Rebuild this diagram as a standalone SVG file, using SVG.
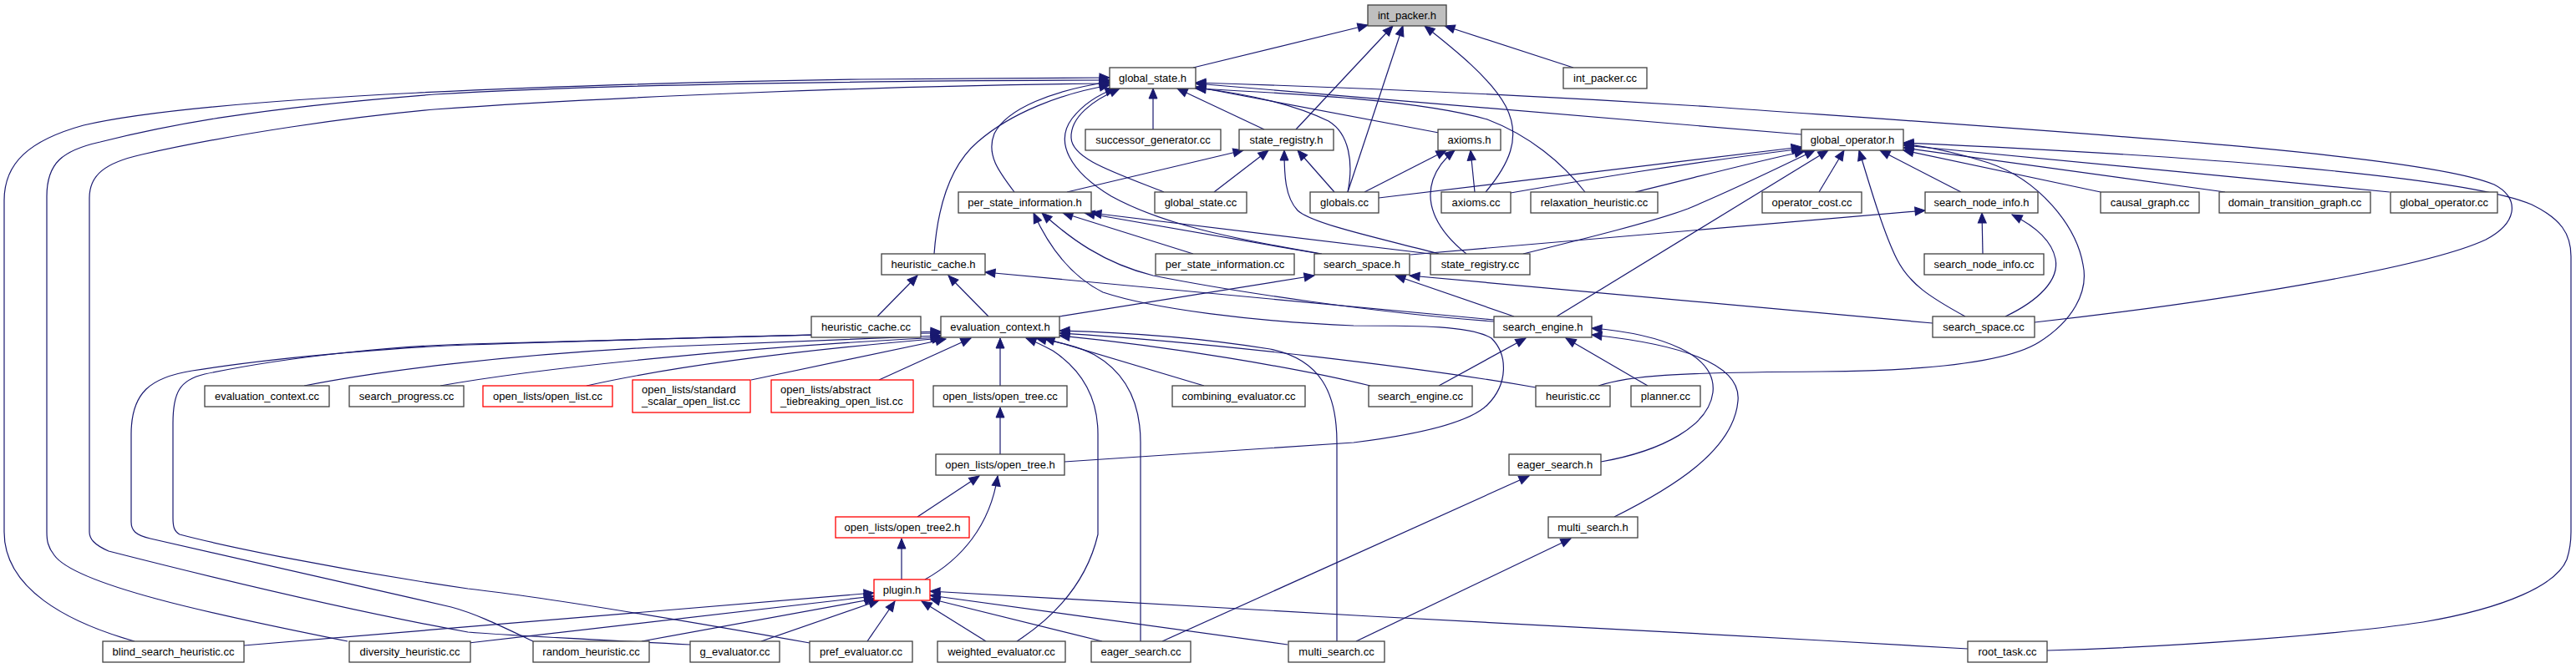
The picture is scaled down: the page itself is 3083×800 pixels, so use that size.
<svg xmlns="http://www.w3.org/2000/svg" width="3083" height="800" viewBox="0 0 3083 800">
<style>
.n rect{fill:#fff;stroke:#404040;stroke-width:1.3}
.n.red rect{stroke:#ff0000}
.n.root rect{fill:#bfbfbf}
.n text{font-family:"Liberation Sans",Arial,sans-serif;font-size:13px;fill:#000;text-anchor:middle}
.n text.l{text-anchor:start}
#edges path{fill:none;stroke:#191970;stroke-width:1.2;marker-end:url(#a)}
</style>
<defs>
<marker id="a" markerUnits="userSpaceOnUse" markerWidth="14" markerHeight="12" refX="12" refY="5" orient="auto" overflow="visible"><path d="M0,0 L12,5 L0,10 z" fill="#191970" stroke="#191970" stroke-width="1"/></marker>
</defs>
<rect width="3083" height="800" fill="#fff"/>
<g id="edges">
<path d="M1428,81 L1637,30"/>
<path d="M1551,155 L1667,31"/>
<path d="M1613,230 L1679,31"/>
<path d="M1778,230 C1805,198 1822,165 1802,127 C1785,95 1742,60 1705,31"/>
<path d="M1883,81 L1729,31"/>
<path d="M1380,155 L1380,106"/>
<path d="M1513,155 L1409,106"/>
<path d="M1393,230 C1330,205 1283,190 1282,165 C1281,140 1308,120 1340,106"/>
<path d="M1582,304 C1470,285 1390,268 1330,235 C1280,205 1262,170 1283,142 C1297,124 1315,113 1335,106"/>
<path d="M1214,230 C1195,205 1180,185 1190,160 C1205,130 1260,108 1328,98"/>
<path d="M1118,304 C1122,250 1135,200 1170,170 C1210,135 1270,112 1328,102"/>
<path d="M161,768 C80,745 5,705 5,637 L5,240 C5,195 35,168 100,150 C250,115 700,100 1030,95 L1328,93"/>
<path d="M416,768 C250,735 90,700 65,665 C57,655 56,647 56,637 L56,235 C56,195 75,180 120,170 C200,150 300,130 520,113 C700,102 1000,97 1328,96"/>
<path d="M826,772 C700,765 620,762 560,757 C400,728 220,683 130,660 C112,652 107,645 107,637 L107,237 C107,210 125,195 170,185 C280,160 420,140 520,131 C700,118 1030,103 1328,100"/>
<path d="M1722,159 L1431,104"/>
<path d="M1613,230 C1620,195 1615,160 1590,145 C1550,125 1490,112 1431,105"/>
<path d="M1897,230 C1870,195 1830,162 1780,143 C1700,120 1550,112 1431,106"/>
<path d="M2156,161 L1431,100"/>
<path d="M2435,386 C2650,362 2900,322 2975,287 C3015,266 3015,236 2985,221 C2900,185 2500,160 2050,128 C1800,112 1600,104 1431,99"/>
<path d="M1277,230 L1488,180"/>
<path d="M1453,230 L1518,180"/>
<path d="M1597,230 L1553,180"/>
<path d="M1722,304 C1650,285 1570,268 1553,252 C1538,236 1537,210 1537,180"/>
<path d="M1633,230 L1731,180"/>
<path d="M1765,230 L1760,180"/>
<path d="M1755,304 C1720,276 1705,245 1715,215 C1721,198 1731,188 1741,180"/>
<path d="M1650,237 L2156,176"/>
<path d="M1808,231 C1900,215 2000,198 2157,178"/>
<path d="M1957,230 C2020,215 2090,196 2160,181"/>
<path d="M1823,304 C1900,285 1980,265 2020,250 C2080,225 2130,200 2172,180"/>
<path d="M1863,379 L2188,180"/>
<path d="M2177,230 L2207,180"/>
<path d="M2347,230 L2250,180"/>
<path d="M2352,379 C2310,356 2285,340 2270,310 C2255,280 2240,230 2225,180"/>
<path d="M2514,230 L2278,180"/>
<path d="M2663,230 L2278,177"/>
<path d="M2860,230 L2278,174"/>
<path d="M2450,779 C2600,775 2800,760 2900,745 C3000,728 3060,700 3072,670 C3077,655 3077,645 3077,637 L3077,307 C3077,280 3065,262 3030,245 C2950,210 2600,185 2278,171"/>
<path d="M1913,462 C1950,450 2000,446 2180,445 C2300,444 2400,435 2440,410 C2480,385 2500,350 2493,317 C2485,270 2440,215 2380,195 C2340,182 2310,176 2278,172"/>
<path d="M1428,304 L1272,255"/>
<path d="M1712,304 L1306,255"/>
<path d="M1580,304 L1298,255"/>
<path d="M1788,385 C1650,375 1480,350 1380,330 C1320,315 1280,285 1247,255"/>
<path d="M1274,553 L1620,530 C1700,520 1760,505 1780,485 C1805,460 1805,425 1785,405 C1760,390 1700,390 1620,390 C1500,385 1380,370 1320,350 C1280,330 1255,295 1237,255"/>
<path d="M1050,379 L1098,330"/>
<path d="M1183,379 L1135,330"/>
<path d="M1788,383 C1600,365 1400,348 1179,326"/>
<path d="M1268,379 L1573,330"/>
<path d="M1812,379 L1670,330"/>
<path d="M2313,387 L1687,330"/>
<path d="M1688,305 L2304,252"/>
<path d="M2373,304 L2372,255"/>
<path d="M2400,379 C2440,360 2465,335 2460,310 C2455,285 2430,268 2408,257"/>
<path d="M1722,462 L1826,405"/>
<path d="M1972,462 L1874,405"/>
<path d="M1916,553 C1990,540 2045,510 2050,470 C2055,425 1990,400 1905,393"/>
<path d="M1932,619 C2000,585 2075,540 2080,480 C2085,430 1990,410 1905,401"/>
<path d="M364,462 C450,445 600,425 800,415 C950,408 1050,404 1126,402"/>
<path d="M527,462 C650,440 900,415 1126,404"/>
<path d="M702,462 C800,440 950,420 1128,405"/>
<path d="M899,455 L1132,406"/>
<path d="M1052,455 L1162,405"/>
<path d="M638,768 C600,750 570,735 540,727 C400,695 250,660 180,645 C162,641 157,635 157,625 L157,520 C157,470 180,452 230,444 C350,425 500,415 560,413 C800,405 1000,400 1126,399"/>
<path d="M969,770 C800,740 650,715 560,705 C400,682 260,652 215,640 C208,636 207,630 207,620 L207,507 C207,470 215,455 245,448 C350,426 480,414 560,412 C800,405 1000,399 1126,397"/>
<path d="M1197,462 L1197,405"/>
<path d="M1441,462 L1250,405"/>
<path d="M1640,462 C1550,440 1400,415 1268,402"/>
<path d="M1838,464 C1700,440 1450,410 1268,399"/>
<path d="M1600,768 L1600,530 C1600,470 1580,430 1520,418 C1440,405 1350,398 1268,396"/>
<path d="M1365,768 L1365,530 C1365,480 1345,445 1310,425 C1285,412 1255,408 1240,405"/>
<path d="M1217,768 C1260,740 1300,700 1314,640 L1314,520 C1314,470 1290,440 1260,420 C1245,412 1236,408 1228,405"/>
<path d="M292,773 L1046,710"/>
<path d="M561,770 L1046,714"/>
<path d="M768,768 L1047,717"/>
<path d="M911,768 L1052,719"/>
<path d="M1038,768 L1071,720"/>
<path d="M1180,768 L1103,720"/>
<path d="M1319,768 L1113,717"/>
<path d="M1541,772 L1113,713"/>
<path d="M2355,777 L2180,767 C2000,757 1800,746 1640,738 L1113,708"/>
<path d="M1079,694 L1079,645"/>
<path d="M1098,619 L1172,570"/>
<path d="M1107,694 C1150,670 1185,630 1194,570"/>
<path d="M1197,544 L1197,488"/>
<path d="M1391,768 L1830,570"/>
<path d="M1623,768 L1880,645"/>
</g>
<g id="int_packer_h" class="n root"><rect x="1637" y="6" width="94" height="25"/><text x="1684" y="23">int_packer.h</text></g>
<g id="global_state_h" class="n"><rect x="1328" y="81" width="103" height="25"/><text x="1379.5" y="98">global_state.h</text></g>
<g id="int_packer_cc" class="n"><rect x="1871" y="81" width="100" height="25"/><text x="1921" y="98">int_packer.cc</text></g>
<g id="successor_generator_cc" class="n"><rect x="1299" y="155" width="162" height="25"/><text x="1380" y="172">successor_generator.cc</text></g>
<g id="state_registry_h" class="n"><rect x="1483" y="155" width="113" height="25"/><text x="1539.5" y="172">state_registry.h</text></g>
<g id="axioms_h" class="n"><rect x="1721" y="155" width="75" height="25"/><text x="1758.5" y="172">axioms.h</text></g>
<g id="global_operator_h" class="n"><rect x="2156" y="155" width="122" height="25"/><text x="2217" y="172">global_operator.h</text></g>
<g id="per_state_information_h" class="n"><rect x="1147" y="230" width="159" height="25"/><text x="1226.5" y="247">per_state_information.h</text></g>
<g id="global_state_cc" class="n"><rect x="1382" y="230" width="110" height="25"/><text x="1437" y="247">global_state.cc</text></g>
<g id="globals_cc" class="n"><rect x="1568" y="230" width="82" height="25"/><text x="1609" y="247">globals.cc</text></g>
<g id="axioms_cc" class="n"><rect x="1725" y="230" width="83" height="25"/><text x="1766.5" y="247">axioms.cc</text></g>
<g id="relaxation_heuristic_cc" class="n"><rect x="1832" y="230" width="152" height="25"/><text x="1908" y="247">relaxation_heuristic.cc</text></g>
<g id="operator_cost_cc" class="n"><rect x="2109" y="230" width="119" height="25"/><text x="2168.5" y="247">operator_cost.cc</text></g>
<g id="search_node_info_h" class="n"><rect x="2304" y="230" width="135" height="25"/><text x="2371.5" y="247">search_node_info.h</text></g>
<g id="causal_graph_cc" class="n"><rect x="2514" y="230" width="118" height="25"/><text x="2573" y="247">causal_graph.cc</text></g>
<g id="domain_transition_graph_cc" class="n"><rect x="2656" y="230" width="181" height="25"/><text x="2746.5" y="247">domain_transition_graph.cc</text></g>
<g id="global_operator_cc" class="n"><rect x="2861" y="230" width="128" height="25"/><text x="2925" y="247">global_operator.cc</text></g>
<g id="heuristic_cache_h" class="n"><rect x="1055" y="304" width="124" height="25"/><text x="1117" y="321">heuristic_cache.h</text></g>
<g id="per_state_information_cc" class="n"><rect x="1383" y="304" width="166" height="25"/><text x="1466" y="321">per_state_information.cc</text></g>
<g id="search_space_h" class="n"><rect x="1573" y="304" width="114" height="25"/><text x="1630" y="321">search_space.h</text></g>
<g id="state_registry_cc" class="n"><rect x="1712" y="304" width="119" height="25"/><text x="1771.5" y="321">state_registry.cc</text></g>
<g id="search_node_info_cc" class="n"><rect x="2303" y="304" width="143" height="25"/><text x="2374.5" y="321">search_node_info.cc</text></g>
<g id="heuristic_cache_cc" class="n"><rect x="971" y="379" width="131" height="25"/><text x="1036.5" y="396">heuristic_cache.cc</text></g>
<g id="evaluation_context_h" class="n"><rect x="1126" y="379" width="142" height="25"/><text x="1197" y="396">evaluation_context.h</text></g>
<g id="search_engine_h" class="n"><rect x="1788" y="379" width="117" height="25"/><text x="1846.5" y="396">search_engine.h</text></g>
<g id="search_space_cc" class="n"><rect x="2313" y="379" width="122" height="25"/><text x="2374" y="396">search_space.cc</text></g>
<g id="evaluation_context_cc" class="n"><rect x="245" y="462" width="149" height="25"/><text x="319.5" y="479">evaluation_context.cc</text></g>
<g id="search_progress_cc" class="n"><rect x="418" y="462" width="137" height="25"/><text x="486.5" y="479">search_progress.cc</text></g>
<g id="open_list_cc" class="n red"><rect x="578" y="462" width="155" height="25"/><text x="655.5" y="479">open_lists/open_list.cc</text></g>
<g id="standard_scalar_open_list_cc" class="n red"><rect x="757" y="455" width="141" height="39"/><text class="l" x="768" y="471">open_lists/standard</text><text class="l" x="768" y="485">_scalar_open_list.cc</text></g>
<g id="abstract_tiebreaking_open_list_cc" class="n red"><rect x="923" y="455" width="170" height="39"/><text class="l" x="934" y="471">open_lists/abstract</text><text class="l" x="934" y="485">_tiebreaking_open_list.cc</text></g>
<g id="open_tree_cc" class="n"><rect x="1117" y="462" width="160" height="25"/><text x="1197" y="479">open_lists/open_tree.cc</text></g>
<g id="combining_evaluator_cc" class="n"><rect x="1403" y="462" width="159" height="25"/><text x="1482.5" y="479">combining_evaluator.cc</text></g>
<g id="search_engine_cc" class="n"><rect x="1638" y="462" width="124" height="25"/><text x="1700" y="479">search_engine.cc</text></g>
<g id="heuristic_cc" class="n"><rect x="1838" y="462" width="89" height="25"/><text x="1882.5" y="479">heuristic.cc</text></g>
<g id="planner_cc" class="n"><rect x="1952" y="462" width="83" height="25"/><text x="1993.5" y="479">planner.cc</text></g>
<g id="open_tree_h" class="n"><rect x="1120" y="544" width="154" height="25"/><text x="1197" y="561">open_lists/open_tree.h</text></g>
<g id="eager_search_h" class="n"><rect x="1806" y="544" width="110" height="25"/><text x="1861" y="561">eager_search.h</text></g>
<g id="open_tree2_h" class="n red"><rect x="1000" y="619" width="160" height="25"/><text x="1080" y="636">open_lists/open_tree2.h</text></g>
<g id="multi_search_h" class="n"><rect x="1853" y="619" width="107" height="25"/><text x="1906.5" y="636">multi_search.h</text></g>
<g id="plugin_h" class="n red"><rect x="1046" y="694" width="67" height="25"/><text x="1079.5" y="711">plugin.h</text></g>
<g id="blind_search_heuristic_cc" class="n"><rect x="123" y="768" width="169" height="25"/><text x="207.5" y="785">blind_search_heuristic.cc</text></g>
<g id="diversity_heuristic_cc" class="n"><rect x="418" y="768" width="145" height="25"/><text x="490.5" y="785">diversity_heuristic.cc</text></g>
<g id="random_heuristic_cc" class="n"><rect x="638" y="768" width="139" height="25"/><text x="707.5" y="785">random_heuristic.cc</text></g>
<g id="g_evaluator_cc" class="n"><rect x="826" y="768" width="107" height="25"/><text x="879.5" y="785">g_evaluator.cc</text></g>
<g id="pref_evaluator_cc" class="n"><rect x="969" y="768" width="123" height="25"/><text x="1030.5" y="785">pref_evaluator.cc</text></g>
<g id="weighted_evaluator_cc" class="n"><rect x="1122" y="768" width="153" height="25"/><text x="1198.5" y="785">weighted_evaluator.cc</text></g>
<g id="eager_search_cc" class="n"><rect x="1306" y="768" width="119" height="25"/><text x="1365.5" y="785">eager_search.cc</text></g>
<g id="multi_search_cc" class="n"><rect x="1542" y="768" width="115" height="25"/><text x="1599.5" y="785">multi_search.cc</text></g>
<g id="root_task_cc" class="n"><rect x="2355" y="768" width="95" height="25"/><text x="2402.5" y="785">root_task.cc</text></g>
</svg>
